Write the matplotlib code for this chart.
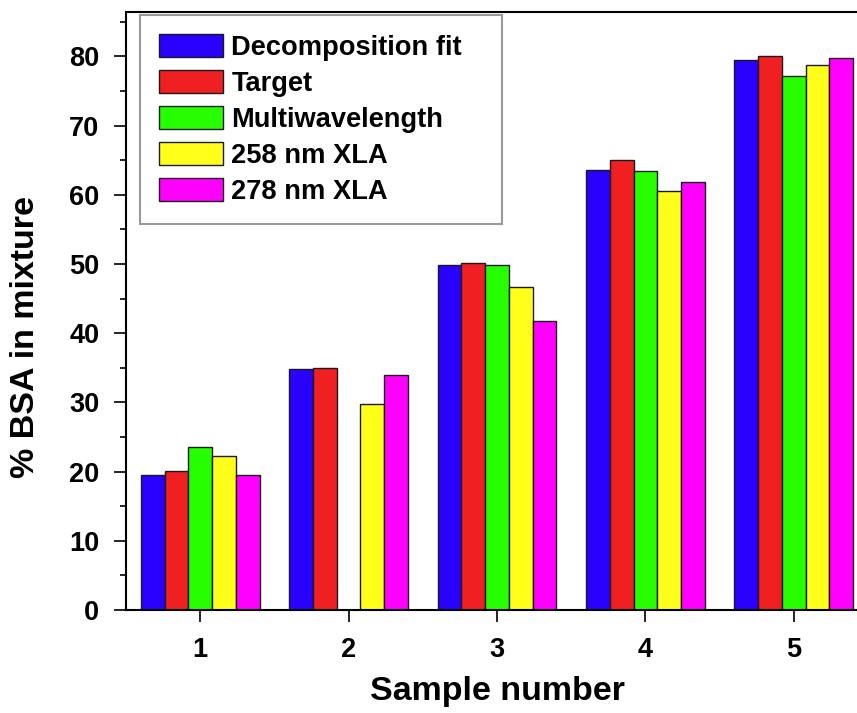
import matplotlib
matplotlib.use('Agg')
import matplotlib.pyplot as plt
import numpy as np
from matplotlib.ticker import MultipleLocator

plt.rcParams['font.family'] = ['Liberation Sans', 'DejaVu Sans']
plt.rcParams['font.weight'] = 'bold'

samples = [1, 2, 3, 4, 5]
series_names = ['Decomposition fit', 'Target', 'Multiwavelength', '258 nm XLA', '278 nm XLA']
decomposition = [19.5, 34.8, 49.8, 63.5, 79.5]
target = [20.1, 35.0, 50.2, 65.0, 80.0]
multiwavelength = [23.6, np.nan, 49.8, 63.4, 77.1]  # no value for sample 2
xla_258 = [22.2, 29.7, 46.6, 60.6, 78.7]
xla_278 = [19.5, 34.0, 41.8, 61.9, 79.8]
colors = ['#2a00ff', '#f01f22', '#26ff00', '#ffff1a', '#ff00ff']

fig = plt.figure(figsize=(8.57, 7.13), dpi=100)
ax = fig.add_axes([126 / 857, 103 / 713, 742 / 857, 598 / 713])

x = np.array(samples, dtype=float)
w = 0.16
all_series = [decomposition, target, multiwavelength, xla_258, xla_278]
for i, (vals, name, c) in enumerate(zip(all_series, series_names, colors)):
    vals = np.array(vals, dtype=float)
    ok = np.isfinite(vals)
    ax.bar(x[ok] + (i - 2) * w, vals[ok], width=w, color=c, edgecolor='#1a1a1a',
           linewidth=1.0, label=name)

ax.set_xlim(0.5, 5.5)
ax.set_ylim(0, 86.4)
ax.set_xticks(samples)
ax.yaxis.set_major_locator(MultipleLocator(10))
ax.yaxis.set_minor_locator(MultipleLocator(5))
ax.tick_params(axis='both', which='major', direction='out', length=8.6, width=1.2,
               labelsize=19.5, pad=10.5)
ax.tick_params(axis='y', which='minor', direction='out', length=4.3, width=1.2)
ax.tick_params(top=False, right=False)
for s in ax.spines.values():
    s.set_linewidth(1.5)

ax.set_xlabel('Sample number', fontsize=24.5, fontweight='bold', labelpad=10)
ax.set_ylabel('% BSA in mixture', fontsize=24.5, fontweight='bold', labelpad=14)
ax.yaxis.set_label_coords(-0.115, 0.456)

# legend box spans ~x 140..502 px, top at ~15 px
leg = ax.legend(loc='upper left', bbox_to_anchor=(0.019, 0.0, 0.488, 0.995),
                mode='expand', borderaxespad=0,
                fontsize=19.6, frameon=True, fancybox=False, edgecolor='#808080',
                handlelength=2.35, handleheight=0.93, handletextpad=0.3,
                labelspacing=0.33, borderpad=0.7)
leg.get_frame().set_linewidth(1.5)
for h in leg.legend_handles:
    h.set_edgecolor('#1a1a1a')

fig.savefig('out.png', dpi=100)
